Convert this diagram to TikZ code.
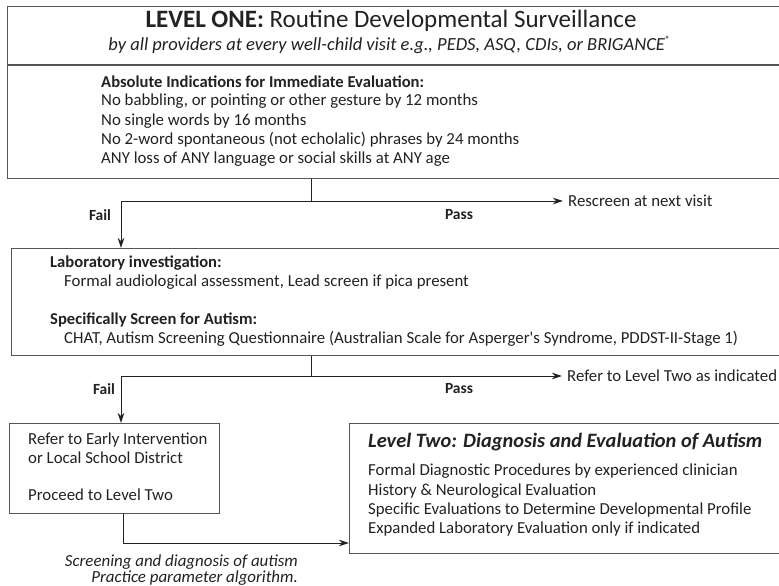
\documentclass[tikz,border=0pt]{standalone}
\usepackage{fontspec}
\setmainfont{Carlito}
\usetikzlibrary{arrows.meta}
\definecolor{ink}{HTML}{222222}
\definecolor{frame}{HTML}{555555}
\begin{document}
\begin{tikzpicture}[x=1pt,y=-1pt,
  box/.style={draw=frame,line width=1.3pt,anchor=north west,inner sep=0pt,rectangle},
  conn/.style={draw=ink,line width=1pt},
  arr/.style={conn,-{Stealth[length=10pt,width=6.5pt]}},
  txt/.style={anchor=base west,inner sep=0pt,text=ink,font=\fontsize{16.8}{19}\selectfont},
  btxt/.style={txt,font=\fontsize{16.6}{19}\selectfont\bfseries},
  lbl/.style={anchor=base,inner sep=0pt,text=ink,font=\fontsize{15.5}{17}\selectfont\bfseries},
  ctxt/.style={anchor=base,inner sep=0pt,text=ink}
]
\useasboundingbox (0,0) rectangle (779,586);
\clip (0,0) rectangle (779,586);
\fill[white] (0,0) rectangle (779,586);

% boxes
\node[box,minimum width=776pt,minimum height=172pt] (b1) at (7,6) {};
\coordinate (d1l) at (7,65);
\coordinate (d1r) at (783,65);
\draw[draw=frame,line width=1.3pt] (d1l) -- (d1r);
\node[box,minimum width=772pt,minimum height=107pt] (b2) at (11,248) {};
\node[box,minimum width=210pt,minimum height=90pt] (b3) at (9,423) {};
\node[box,minimum width=434pt,minimum height=130pt] (b4) at (349,423) {};

% box 1 text
\node[ctxt,font=\fontsize{25}{28}\selectfont] (t1) at (391,28) {{\bfseries LEVEL ONE:} Routine Developmental Surveillance};
\node[ctxt,font=\fontsize{18.5}{21}\selectfont\itshape] (t1s) at (389,51) {by all providers at every well-child visit e.g., PEDS, ASQ, CDIs, or BRIGANCE\raisebox{0.45em}{\fontsize{9}{10}\selectfont\bfseries ®}};
\node[btxt] (a0) at (101,88) {Absolute Indications for Immediate Evaluation:};
\node[txt] (a1) at (101,106) {No babbling, or pointing or other gesture by 12 months};
\node[txt] (a2) at (101,125) {No single words by 16 months};
\node[txt] (a3) at (101,144) {No 2-word spontaneous (not echolalic) phrases by 24 months};
\node[txt] (a4) at (101,163) {ANY loss of ANY language or social skills at ANY age};

% box 2 text
\node[btxt] (l0) at (50,267) {Laboratory investigation:};
\node[txt] (l1) at (64,286) {Formal audiological assessment, Lead screen if pica present};
\node[btxt] (s0) at (50,324) {Specifically Screen for Autism:};
\node[txt] (s1) at (64,343) {CHAT, Autism Screening Questionnaire (Australian Scale for Asperger\textquotesingle s Syndrome, PDDST-II-Stage 1)};

% box 3 text
\node[txt] (r1) at (28,444) {Refer to Early Intervention};
\node[txt] (r2) at (28,463) {or Local School District};
\node[txt] (r3) at (28,500) {Proceed to Level Two};

% box 4 text
\node[txt,font=\fontsize{20.4}{23}\selectfont\bfseries\itshape] (v0) at (368,447) {Level Two: Diagnosis and Evaluation of Autism};
\node[txt] (v1) at (368,475) {Formal Diagnostic Procedures by experienced clinician};
\node[txt] (v2) at (368,495) {History \& Neurological Evaluation};
\node[txt] (v3) at (368,514) {Specific Evaluations to Determine Developmental Profile};
\node[txt] (v4) at (368,533) {Expanded Laboratory Evaluation only if indicated};

% outcome texts
\node[txt,anchor=west] (rs) at (568,201) {Rescreen at next visit};
\node[txt,anchor=west] (rl) at (567,376) {Refer to Level Two as indicated};

% labels
\node[lbl] (p1) at (459,219) {Pass};
\node[lbl] (f1) at (100,220) {Fail};
\node[lbl] (p2) at (459,393) {Pass};
\node[lbl] (f2) at (104,394) {Fail};

% caption
\node[anchor=base east,inner sep=0pt,text=ink,font=\fontsize{16.9}{19}\selectfont\itshape] (c1) at (298,566) {Screening and diagnosis of autism};
\node[anchor=base east,inner sep=0pt,text=ink,font=\fontsize{16.9}{19}\selectfont\itshape] (c2) at (298,582) {Practice parameter algorithm.};

% connectors
\coordinate (j1) at (311,201);
\coordinate (k1) at (121,201);
\draw[conn] (b1.south -| j1) -- (j1);
\draw[arr,shorten >=5pt] (k1) -- (rs.west);
\draw[arr] (k1) -- (k1 |- b2.north);

\coordinate (j2) at (311,376);
\coordinate (k2) at (121,376);
\draw[conn] (b2.south -| j2) -- (j2);
\draw[arr,shorten >=5pt] (k2) -- (rl.west);
\draw[arr] (k2) -- (k2 |- b3.north);

\coordinate (m3) at (123,543);
\draw[arr] (b3.south -| m3) -- (m3) -- (m3 -| b4.west);
\end{tikzpicture}
\end{document}
